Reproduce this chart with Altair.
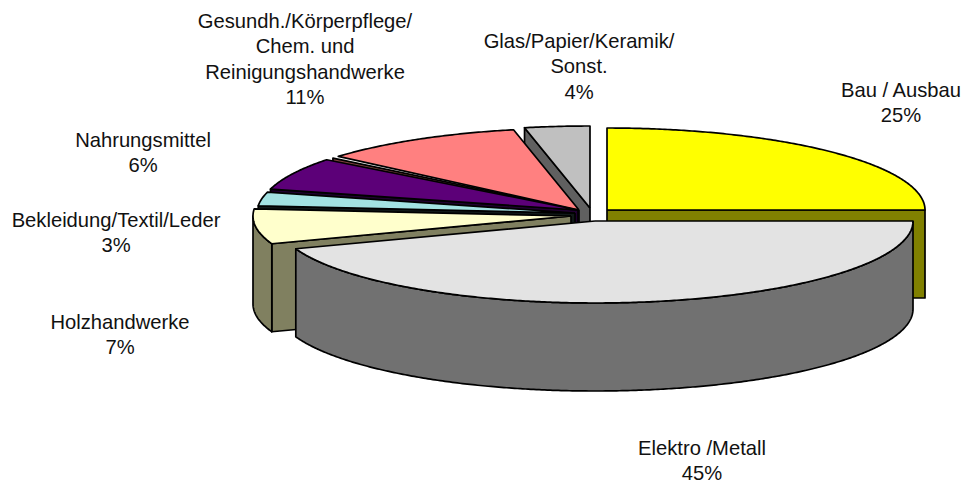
import math
import altair as alt
import pandas as pd

# Slice shares (clockwise from 12 o'clock)
names = ["Bau / Ausbau", "Elektro /Metall", "Holzhandwerke", "Bekleidung/Textil/Leder",
         "Nahrungsmittel", "Gesundh./Körperpflege/\nChem. und\nReinigungshandwerke",
         "Glas/Papier/Keramik/\nSonst."]
shares = [25.0, 44.5, 6.9, 2.7, 6.4, 11.2, 3.3]
labels = ["25%", "45%", "7%", "3%", "6%", "11%", "4%"]
top_colors = ["#FFFF00", "#E3E3E3", "#FFFFCC", "#A3E2E2", "#5C0078", "#FF8080", "#C0C0C0"]
side_colors = ["#808000", "#717171", "#808060", "#101818", "#200030", "#804040", "#606060"]

# Layout of the exploded perspective pie
centers = [(607, 210), (595, 221), (571, 216), (575, 213), (578, 210), (579, 210), (590, 208)]
top_trim = [0, 0, 0, 0, 0, 3, 0]
wall_trim = [0, 0, 0, 0, 0, 1.5, 0]
RX, RY, DEPTH = 318, 82, 88
label_x = [901, 702, 120, 116, 143, 305, 579]
label_y = [97, 455, 329, 227, 147, 28, 48]
paint_order = [6, 5, 4, 3, 2, 0, 1]


def rim(c, deg, drop=0):
    t = math.radians(deg)
    return (c[0] + RX * math.sin(t), c[1] - RY * math.cos(t) + drop)


def arc(c, a, b, drop=0):
    n = max(2, int(abs(b - a) * 2))
    return [rim(c, a + (b - a) * i / n, drop) for i in range(n + 1)]


edges = [0]
for s in shares:
    edges.append(edges[-1] + s * 3.6)

rows = []
pid = 0


def add(points, fill):
    global pid
    pts = list(points) + [points[0]]
    for k, (x, y) in enumerate(pts):
        rows.append({"poly": f"p{pid:02d}", "seq": k, "x": x, "y": y, "fill": fill})
    pid += 1


for i in paint_order:
    a, b = edges[i], edges[i + 1]
    c = centers[i]
    if i == 0:
        e = rim(c, b)
        add([c, e, (e[0], e[1] + DEPTH), (c[0], c[1] + DEPTH)], side_colors[i])
    elif i != 1:
        e = rim(c, a + wall_trim[i])
        add([c, e, (e[0], e[1] + DEPTH), (c[0], c[1] + DEPTH)], side_colors[i])
    lo, hi = max(a, 90), min(b, 270)
    if hi > lo:
        add(arc(c, lo, hi) + arc(c, hi, lo, DEPTH), side_colors[i])
    add([c] + arc(c, a + top_trim[i], b), top_colors[i])

poly_df = pd.DataFrame(rows)
text_df = pd.DataFrame({
    "text": [f"{n}\n{l}" for n, l in zip(names, labels)],
    "x": label_x, "y": label_y,
})

xs = alt.Scale(domain=[8, 962], nice=False, zero=False)
ys = alt.Scale(domain=[474, 8], nice=False, zero=False)

shapes = alt.Chart(poly_df).mark_line(strokeWidth=1.7, strokeJoin="round", stroke="black", clip=False).encode(
    x=alt.X("x:Q", scale=xs, axis=None),
    y=alt.Y("y:Q", scale=ys, axis=None),
    detail="poly:N",
    order="seq:Q",
    fill=alt.Fill("fill:N", scale=None),
)

texts = alt.Chart(text_df).mark_text(
    font="Liberation Sans", fontSize=20.2, align="center", baseline="alphabetic",
    lineBreak="\n", lineHeight=25.3, color="#111111",
).encode(
    x=alt.X("x:Q", scale=xs, axis=None),
    y=alt.Y("y:Q", scale=ys, axis=None),
    text="text:N",
)

chart = alt.layer(shapes, texts).properties(width=954, height=466, padding=0, background="white").configure_view(stroke=None)
chart.save("out.html", embed_options={"renderer": "svg", "actions": False})
